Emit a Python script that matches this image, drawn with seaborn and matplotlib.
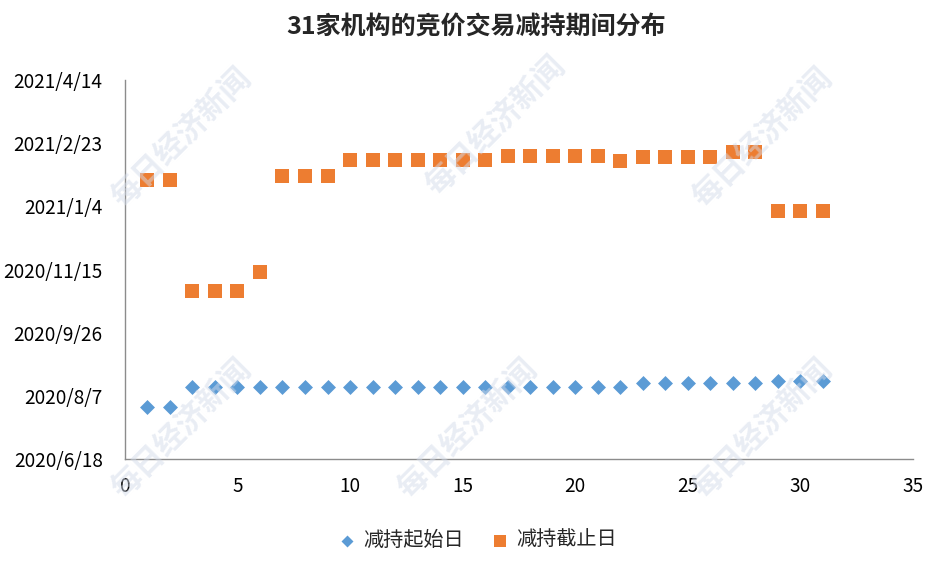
import pandas as pd
import seaborn as sns
import matplotlib.pyplot as plt
import matplotlib.dates as mdates
import numpy as np

# 31 institutions, start / end of selling period
inst = list(range(1, 32))
start_dates = ["2020-07-29"] * 2 + ["2020-08-14"] * 20 + ["2020-08-17"] * 6 + ["2020-08-19"] * 3
end_dates = (["2021-01-25"] * 2 + ["2020-10-29"] * 3 + ["2020-11-13"] + ["2021-01-28"] * 3
             + ["2021-02-10"] * 7 + ["2021-02-13"] * 5 + ["2021-02-09"] + ["2021-02-12"] * 4
             + ["2021-02-16"] * 2 + ["2020-12-31"] * 3)
ytick_dates = ["2020-06-18", "2020-08-07", "2020-09-26", "2020-11-15",
               "2021-01-04", "2021-02-23", "2021-04-14"]

df = pd.DataFrame({"inst": inst,
                   "start": mdates.date2num(pd.to_datetime(start_dates)),
                   "end": mdates.date2num(pd.to_datetime(end_dates))})

sns.set_style("white")
plt.rcParams['font.family'] = ['Noto Sans CJK SC', 'DejaVu Sans']

fig = plt.figure(figsize=(9.53, 5.72), dpi=100)
ax = fig.add_axes([0.131, 0.1976, 0.827, 0.6624])

# watermark
for wx, wy in [(0.19, 0.76), (0.52, 0.78), (0.80, 0.76), (0.19, 0.25), (0.49, 0.25), (0.80, 0.25)]:
    fig.text(wx, wy, "每日经济新闻", rotation=45, fontsize=22, color="#d3dbea",
             alpha=0.5, ha="center", va="center", fontweight="bold", zorder=0)

sns.scatterplot(data=df, x="inst", y="start", marker="D", s=58, color="#5B9BD5",
                linewidth=0, ax=ax, label="减持起始日", zorder=3)
sns.scatterplot(data=df, x="inst", y="end", marker="s", s=100, color="#ED7D31",
                linewidth=0, ax=ax, label="减持截止日", zorder=3)

yt = mdates.date2num(pd.to_datetime(ytick_dates))
ax.set_ylim(yt[0], yt[-1])
ax.set_yticks(yt)
ax.set_yticklabels([f"{d.year}/{d.month}/{d.day}" for d in pd.to_datetime(ytick_dates)])
ax.set_xlim(0, 35)
ax.set_xticks(np.arange(0, 36, 5))
ax.set_xlabel("")
ax.set_ylabel("")
ax.tick_params(axis="both", labelsize=13.7, length=0, colors="black")
ax.tick_params(axis="x", pad=12)
ax.tick_params(axis="y", pad=16)

for side in ["top", "right"]:
    ax.spines[side].set_visible(False)
for side in ["left", "bottom"]:
    ax.spines[side].set_color("#8c8c8c")
    ax.spines[side].set_linewidth(1)

ax.patch.set_alpha(0)
fig.suptitle("31家机构的竞价交易减持期间分布", fontsize=18, fontweight="bold", y=0.975)
ax.legend(loc="center", bbox_to_anchor=(0.448, -0.215), ncol=2, frameon=False,
          fontsize=14.5, handlelength=0.8, handletextpad=0.4, columnspacing=1.4,
          markerscale=0.8)

fig.savefig("out.png", dpi=100)
